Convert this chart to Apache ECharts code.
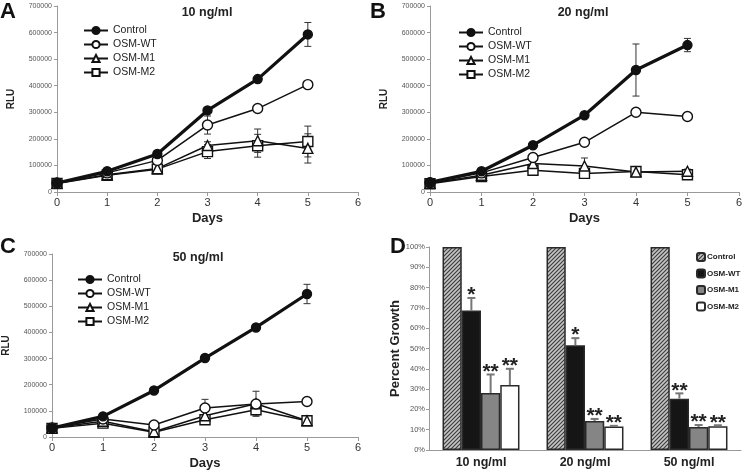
<!DOCTYPE html>
<html>
<head>
<meta charset="utf-8">
<script src="https://cdn.jsdelivr.net/npm/echarts@6/dist/echarts.min.js"></script>
<style>html,body{margin:0;padding:0;background:#fff}#c{width:745px;height:472px}</style>
</head>
<body>
<div id="c"></div>
<script>
// ---------- data ----------
const days = [0, 1, 2, 3, 4, 5];
const seriesNames = ['Control', 'OSM-WT', 'OSM-M1', 'OSM-M2'];

// Panel A: 10 ng/ml
const A_control = [34000, 78000, 143000, 307000, 425000, 593000];
const A_control_err = [0, 0, 0, 0, 0, 45000];
const A_wt = [34000, 72000, 119000, 252000, 314000, 404000];
const A_wt_err = [0, 0, 0, 34000, 0, 0];
const A_m1 = [33000, 65000, 88000, 175000, 193000, 164000];
const A_m1_err = [0, 0, 0, 14000, 44000, 55000];
const A_m2 = [32000, 63000, 86000, 152000, 174000, 190000];
const A_m2_err = [0, 0, 10000, 26000, 43000, 58000];

// Panel B: 20 ng/ml
const B_control = [36000, 78000, 176000, 289000, 459000, 553000];
const B_control_err = [0, 0, 0, 0, 98000, 25000];
const B_wt = [35000, 72000, 130000, 187000, 300000, 284000];
const B_wt_err = [0, 0, 0, 0, 10000, 12000];
const B_m1 = [33000, 63000, 107000, 98000, 75000, 78000];
const B_m1_err = [0, 0, 0, 30000, 0, 8000];
const B_m2 = [31000, 58000, 82000, 70000, 77000, 65000];
const B_m2_err = [0, 0, 0, 8000, 0, 0];

// Panel C: 50 ng/ml
const C_control = [34000, 79000, 178000, 302000, 419000, 547000];
const C_control_err = [0, 0, 0, 0, 0, 37000];
const C_wt = [35000, 69000, 46000, 111000, 126000, 136000];
const C_wt_err = [0, 0, 0, 33000, 0, 8000];
const C_m1 = [34000, 60000, 20000, 81000, 127000, 62000];
const C_m1_err = [0, 0, 0, 0, 48000, 0];
const C_m2 = [33000, 53000, 18000, 66000, 104000, 62000];
const C_m2_err = [0, 0, 0, 10000, 20000, 0];

// Panel D: percent growth
const D_categories = ['10 ng/ml', '20 ng/ml', '50 ng/ml'];
const D_control = [100, 100, 100];
const D_control_err = [0, 0, 0];
const D_wt = [68.7, 51.6, 25.3];
const D_wt_err = [6.2, 3.5, 2.6];
const D_m1 = [28.1, 14.3, 11.3];
const D_m1_err = [9.1, 1.0, 1.0];
const D_m2 = [32.0, 11.6, 11.7];
const D_m2_err = [8.0, 0.3, 0.5];
const D_control_star = ['', '', ''];
const D_wt_star = ['*', '*', '**'];
const D_m1_star = ['**', '**', '**'];
const D_m2_star = ['**', '**', '**'];

const panelTitles = ['10 ng/ml', '20 ng/ml', '50 ng/ml'];
const panelLetters = ['A', 'B', 'C', 'D'];

// ---------- styles ----------
const FONT = '"Liberation Sans", Arial, sans-serif';
const axisGray = '#9a9a9a';

function hatchPattern() {
  const cv = document.createElement('canvas');
  cv.width = 4; cv.height = 4;
  const ctx = cv.getContext('2d');
  ctx.fillStyle = '#c4c4c4';
  ctx.fillRect(0, 0, 4, 4);
  ctx.strokeStyle = '#3a3a3a';
  ctx.lineWidth = 1.1;
  ctx.beginPath();
  ctx.moveTo(-1, 5); ctx.lineTo(5, -1);
  ctx.moveTo(-1, 1); ctx.lineTo(1, -1);
  ctx.moveTo(3, 5); ctx.lineTo(5, 3);
  ctx.stroke();
  return cv;
}

const lineStyles = {
  'Control': {symbol: 'circle', size: 9, width: 3.2, fill: '#111'},
  'OSM-WT': {symbol: 'circle', size: 10, width: 1.5, fill: '#fff'},
  'OSM-M1': {symbol: 'triangle', size: 10, width: 1.5, fill: '#fff'},
  'OSM-M2': {symbol: 'rect', size: 10, width: 1.5, fill: '#fff'}
};

const grids = [
  {left: 57, top: 6, width: 301, height: 186},
  {left: 430, top: 6, width: 310, height: 186},
  {left: 52, top: 254, width: 306, height: 183},
  {left: 429, top: 247, width: 312, height: 203}
];

const xAxes = [];
const yAxes = [];
for (let g = 0; g < 3; g++) {
  xAxes.push({
    type: 'value', gridIndex: g, min: 0, max: 6, interval: 1,
    name: 'Days', nameLocation: 'middle', nameGap: 20,
    nameTextStyle: {fontFamily: FONT, fontSize: 13, fontWeight: 'bold', color: '#222'},
    axisLine: {show: true, lineStyle: {color: axisGray, width: 1}},
    axisTick: {show: true, length: 4, lineStyle: {color: axisGray}},
    axisLabel: {fontFamily: FONT, fontSize: 11, color: '#333', margin: 5},
    splitLine: {show: false}
  });
  yAxes.push({
    type: 'value', gridIndex: g, min: 0, max: 700000, interval: 100000,
    name: 'RLU', nameLocation: 'middle', nameGap: 41, nameRotate: 90,
    nameTextStyle: {fontFamily: FONT, fontSize: 10, fontWeight: 'bold', color: '#222'},
    axisLine: {show: true, lineStyle: {color: axisGray, width: 1}},
    axisTick: {show: true, length: 3, lineStyle: {color: axisGray}},
    axisLabel: {fontFamily: FONT, fontSize: 7, color: '#555', margin: 5, formatter: v => String(v)},
    splitLine: {show: false}
  });
}
xAxes.push({
  type: 'category', gridIndex: 3, data: D_categories,
  axisLine: {show: true, lineStyle: {color: axisGray, width: 1}},
  axisTick: {show: false},
  axisLabel: {fontFamily: FONT, fontSize: 12.5, fontWeight: 'bold', color: '#222', margin: 6},
  splitLine: {show: false}
});
yAxes.push({
  type: 'value', gridIndex: 3, min: 0, max: 100, interval: 10,
  name: 'Percent Growth', nameLocation: 'middle', nameGap: 25, nameRotate: 90,
  nameTextStyle: {fontFamily: FONT, fontSize: 13, fontWeight: 'bold', color: '#222'},
  axisLine: {show: true, lineStyle: {color: axisGray, width: 1}},
  axisTick: {show: true, length: 3, lineStyle: {color: axisGray}},
  axisLabel: {fontFamily: FONT, fontSize: 7.5, color: '#555', margin: 4, formatter: '{value}%'},
  splitLine: {show: false}
});

const series = [];

function errSeries(g, vals, errs) {
  return {
    type: 'custom', xAxisIndex: g, yAxisIndex: g, z: 1, silent: true,
    encode: {x: 0, y: 1},
    data: days.map((d, i) => [d, vals[i], errs[i]]),
    renderItem: function (params, api) {
      const x = api.value(0), y = api.value(1), e = api.value(2);
      if (!e) return null;
      const t = api.coord([x, y + e]);
      const b = api.coord([x, y - e]);
      const st = {stroke: '#333', lineWidth: 1};
      return {type: 'group', children: [
        {type: 'line', shape: {x1: t[0], y1: t[1], x2: b[0], y2: b[1]}, style: st},
        {type: 'line', shape: {x1: t[0] - 3.5, y1: t[1], x2: t[0] + 3.5, y2: t[1]}, style: st},
        {type: 'line', shape: {x1: b[0] - 3.5, y1: b[1], x2: b[0] + 3.5, y2: b[1]}, style: st}
      ]};
    }
  };
}

function lineSeries(g, name, vals) {
  const s = lineStyles[name];
  return {
    type: 'line', name: name, xAxisIndex: g, yAxisIndex: g,
    data: days.map((d, i) => [d, vals[i]]),
    symbol: s.symbol, symbolSize: s.size, showSymbol: true,
    z: name === 'Control' ? 5 : 3,
    lineStyle: {color: '#111', width: s.width},
    itemStyle: {color: s.fill, borderColor: '#111', borderWidth: 1.4},
    emphasis: {disabled: true},
    animation: false
  };
}

const panels = [
  [[A_control, A_control_err], [A_wt, A_wt_err], [A_m1, A_m1_err], [A_m2, A_m2_err]],
  [[B_control, B_control_err], [B_wt, B_wt_err], [B_m1, B_m1_err], [B_m2, B_m2_err]],
  [[C_control, C_control_err], [C_wt, C_wt_err], [C_m1, C_m1_err], [C_m2, C_m2_err]]
];
panels.forEach((p, g) => {
  p.forEach((pair) => {
    series.push(errSeries(g, pair[0], pair[1]));
  });
  for (let k = 3; k >= 0; k--) series.push(lineSeries(g, seriesNames[k], p[k][0]));
});

// Panel D bars
const barCatGap = 0.26;
const dFills = [{image: hatchPattern(), repeat: 'repeat'}, '#151515', '#858585', '#ffffff'];
const dVals = [D_control, D_wt, D_m1, D_m2];
const dErrs = [D_control_err, D_wt_err, D_m1_err, D_m2_err];
const dStars = [D_control_star, D_wt_star, D_m1_star, D_m2_star];
seriesNames.forEach((n, k) => {
  series.push({
    type: 'bar', name: n + ' (D)', xAxisIndex: 3, yAxisIndex: 3,
    data: dVals[k], barGap: '0%', barCategoryGap: (barCatGap * 100) + '%',
    itemStyle: {color: dFills[k], borderColor: '#2a2a2a', borderWidth: 1.5},
    emphasis: {disabled: true}, animation: false, z: 2
  });
});
seriesNames.forEach((n, k) => {
  series.push({
    type: 'custom', xAxisIndex: 3, yAxisIndex: 3, z: 4, silent: true,
    encode: {x: 0, y: 1},
    data: D_categories.map((c, i) => [i, dVals[k][i], dErrs[k][i]]),
    renderItem: function (params, api) {
      const i = api.value(0), v = api.value(1), e = api.value(2);
      const band = api.size([1, 0])[0];
      const bw = band * (1 - barCatGap) / 4;
      const base = api.coord([i, v]);
      const cx = base[0] + (k - 1.5) * bw;
      const top = api.coord([i, v + e])[1];
      const children = [];
      if (e > 0) {
        children.push({type: 'line', shape: {x1: cx, y1: base[1], x2: cx, y2: top}, style: {stroke: '#777', lineWidth: 2}});
        children.push({type: 'line', shape: {x1: cx - 4, y1: top, x2: cx + 4, y2: top}, style: {stroke: '#777', lineWidth: 2}});
      }
      const star = dStars[k][params.dataIndex];
      if (star) {
        children.push({type: 'text', x: cx, y: top + 8, style: {
          text: star, fontFamily: FONT, fontSize: 21, fontWeight: 'bold', fill: '#222',
          align: 'center', verticalAlign: 'bottom'
        }});
      }
      return {type: 'group', children: children};
    }
  });
});

const legendText = {fontFamily: FONT, fontSize: 10.5, color: '#222'};
function lineLegend(left, top) {
  return {
    data: seriesNames, orient: 'vertical', left: left, top: top,
    itemWidth: 24, itemHeight: 9, itemGap: 3, padding: 0,
    textStyle: legendText, selectedMode: false
  };
}

const titleStyle = {fontFamily: FONT, fontSize: 12.5, fontWeight: 'bold', color: '#222'};
const letterStyle = {fontFamily: FONT, fontSize: 22, fontWeight: 'bold', color: '#111'};

const option = {
  backgroundColor: '#fff',
  animation: false,
  grid: grids,
  xAxis: xAxes,
  yAxis: yAxes,
  title: [
    {text: panelTitles[0], left: 207, top: 6, textAlign: 'center', padding: 0, textStyle: titleStyle},
    {text: panelTitles[1], left: 583, top: 6, textAlign: 'center', padding: 0, textStyle: titleStyle},
    {text: panelTitles[2], left: 198, top: 251, textAlign: 'center', padding: 0, textStyle: titleStyle},
    {text: panelLetters[0], left: 0, top: 1, padding: 0, textStyle: letterStyle},
    {text: panelLetters[1], left: 370, top: 1, padding: 0, textStyle: letterStyle},
    {text: panelLetters[2], left: 0, top: 236, padding: 0, textStyle: letterStyle},
    {text: panelLetters[3], left: 390, top: 236, padding: 0, textStyle: letterStyle}
  ],
  legend: [
    lineLegend(83, 25),
    lineLegend(458, 27),
    lineLegend(77, 274),
    {
      data: seriesNames.map(n => n + ' (D)'), orient: 'vertical', left: 696, top: 252,
      itemWidth: 8, itemHeight: 8, itemGap: 6.5, padding: 0, selectedMode: false,
      formatter: n => n.replace(' (D)', ''),
      textStyle: {fontFamily: FONT, fontSize: 8, fontWeight: 'bold', color: '#222', padding: [0, 0, 0, -3]}
    }
  ],
  series: series
};

const chart = echarts.init(document.getElementById('c'), null, {renderer: 'canvas'});
chart.setOption(option);
</script>
</body>
</html>
